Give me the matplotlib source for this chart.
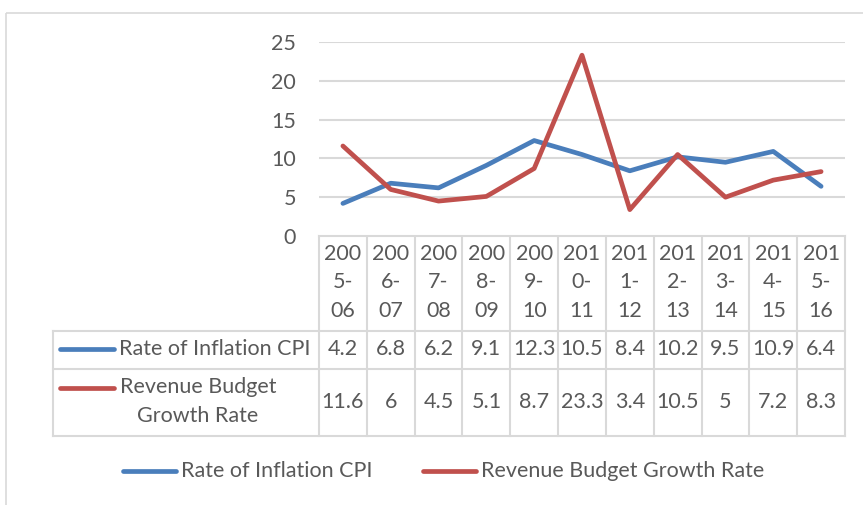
import matplotlib
matplotlib.use("Agg")
import matplotlib.pyplot as plt
from matplotlib.patches import Rectangle

# data
years = ["2005-06", "2006-07", "2007-08", "2008-09", "2009-10", "2010-11",
         "2011-12", "2012-13", "2013-14", "2014-15", "2015-16"]
inflation_cpi = [4.2, 6.8, 6.2, 9.1, 12.3, 10.5, 8.4, 10.2, 9.5, 10.9, 6.4]
revenue_growth = [11.6, 6, 4.5, 5.1, 8.7, 23.3, 3.4, 10.5, 5, 7.2, 8.3]
yticks = [0, 5, 10, 15, 20, 25]

blue = "#4a7ebb"
red = "#c0504d"
grey_txt = "#595959"
grid_col = "#d9d9d9"
font = "Lato"
fs = 15.5

W, H = 863, 505
fig = plt.figure(figsize=(W / 100, H / 100), dpi=100)

# plot area in pixels
x0, x1 = 319, 845
y_top, y_zero = 42, 236
n = len(years)
cw = (x1 - x0) / n

ax = fig.add_axes([x0 / W, 1 - y_zero / H, (x1 - x0) / W, (y_zero - y_top) / H])
ax.set_xlim(-0.5, n - 0.5)
ax.set_ylim(0, 25)
ax.set_yticks(yticks)
ax.set_yticklabels([str(t) for t in yticks], fontsize=fs, color=grey_txt, family=font)
ax.tick_params(axis="y", length=0, pad=16.5)
ax.set_xticks([])
for s in ax.spines.values():
    s.set_visible(False)
ax.grid(axis="y", color=grid_col, lw=1.5)
ax.set_axisbelow(True)

ax.plot(range(n), inflation_cpi, color=blue, lw=3.4, solid_capstyle="round",
        solid_joinstyle="round", clip_on=False)
ax.plot(range(n), revenue_growth, color=red, lw=3.4, solid_capstyle="round",
        solid_joinstyle="round", clip_on=False)

# overlay in pixel coordinates for the table, legend and frame
ov = fig.add_axes([0, 0, 1, 1], zorder=-1)
ov.set_xlim(0, W)
ov.set_ylim(H, 0)
ov.axis("off")

ov.add_patch(Rectangle((6, 13), W + 20, H + 20, fill=False, ec=grid_col, lw=1.2))

tab_left = 53
r0, r1, r2, r3 = 236, 331, 369, 436
lk = dict(color=grid_col, lw=1.5)
# horizontal lines
ov.plot([x0, x1], [r0, r0], **lk)
ov.plot([tab_left, x1], [r1, r1], **lk)
ov.plot([tab_left, x1], [r2, r2], **lk)
ov.plot([tab_left, x1], [r3, r3], **lk)
# vertical lines
ov.plot([tab_left, tab_left], [r1, r3], **lk)
for i in range(n + 1):
    ov.plot([x0 + i * cw] * 2, [r0, r3], **lk)

tk = dict(fontsize=fs, color=grey_txt, family=font, ha="center", va="center")
for i, yr in enumerate(years):
    cx = x0 + (i + 0.5) * cw
    for j, part in enumerate([yr[:3], yr[3:5], yr[5:]]):
        ov.text(cx, 254 + j * 28.5, part, **tk)
    ov.text(cx, 349, f"{inflation_cpi[i]:g}", **tk)
    ov.text(cx, 402, f"{revenue_growth[i]:g}", **tk)

# row headers
ov.plot([60, 114], [349, 349], color=blue, lw=3.4, solid_capstyle="round")
ov.text(119, 349, "Rate of Inflation CPI", fontsize=fs, color=grey_txt, family=font,
        ha="left", va="center")
ov.plot([60, 114], [388, 388], color=red, lw=3.4, solid_capstyle="round")
ov.text(198, 387, "Revenue Budget", **tk)
ov.text(198, 416, "Growth Rate", **tk)

# legend
ov.plot([123, 176], [471, 471], color=blue, lw=3.4, solid_capstyle="round")
ov.text(181, 471, "Rate of Inflation CPI", fontsize=fs, color=grey_txt, family=font,
        ha="left", va="center")
ov.plot([423, 476], [471, 471], color=red, lw=3.4, solid_capstyle="round")
ov.text(481, 471, "Revenue Budget Growth Rate", fontsize=fs, color=grey_txt, family=font,
        ha="left", va="center")

fig.savefig("out.png", dpi=100)
